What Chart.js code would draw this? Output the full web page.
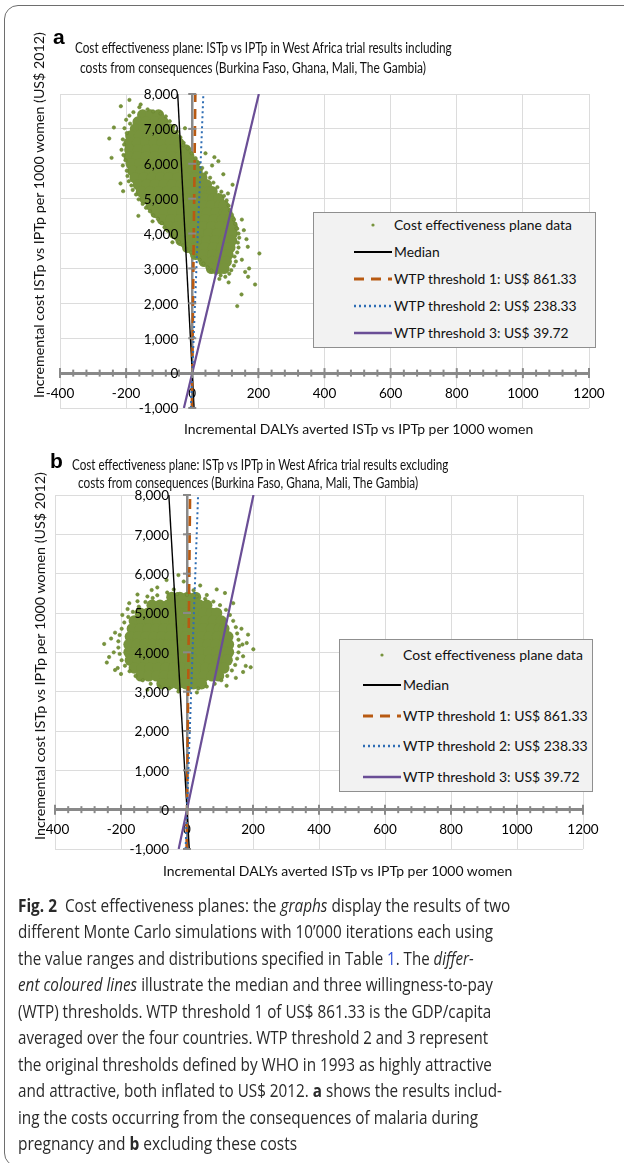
<!DOCTYPE html>
<html>
<head>
<meta charset="utf-8">
<script src="https://cdn.jsdelivr.net/npm/chart.js@4"></script>
<style>
  body { margin: 0; width: 624px; height: 1163px; position: relative; overflow: hidden; background: #fff; font-family: Lato, "Noto Sans", sans-serif; color: #111; }
  .frame { position: absolute; left: 4px; top: 5px; width: 680px; height: 1162px; border: 1.4px solid #6e6e6e; border-radius: 14px; box-sizing: border-box; }
  canvas { position: absolute; left: 0; }
  .t { position: absolute; white-space: nowrap; transform-origin: 0 50%; font-size: 14.5px; line-height: 18px; color: #111; }
  .rot { transform-origin: 0 0; font-size: 14px; line-height: 16px; }
  .lab { position: absolute; font-family: "Liberation Sans", Arial, sans-serif; font-weight: bold; font-size: 21px; line-height: 21px; color: #000; }
  .legend { position: absolute; background: #f2f2f2; border: 1px solid #8f8f8f; box-sizing: border-box; }
  .lt { position: absolute; white-space: nowrap; transform-origin: 0 50%; font-size: 14px; line-height: 18px; color: #111; }
  .cap { position: absolute; left: 18px; white-space: nowrap; transform-origin: 0 50%; font-family: "Open Sans", sans-serif; font-size: 18.5px; line-height: 26px; color: #2a2a2a; }
  .cap .lnk { color: #2f4fd6; }
</style>
</head>
<body>
<div class="frame"></div>
<canvas id="chartA" width="624" height="445" style="top:0"></canvas>
<canvas id="chartB" width="624" height="440" style="top:445px"></canvas>

<div class="lab" style="left:53px;top:26px">a</div>
<div class="t" data-w="377" style="left:75px;top:39px">Cost effectiveness plane: ISTp vs IPTp in West Africa trial results including</div>
<div class="t" data-w="346" style="left:80px;top:59px">costs from consequences (Burkina Faso, Ghana, Mali, The Gambia)</div>
<div class="t rot" data-w="366" style="left:31px;top:398px">Incremental cost ISTp vs IPTp per 1000 women (US$ 2012)</div>
<div class="t" data-w="349" style="left:184px;top:420px;font-size:14px">Incremental DALYs averted ISTp vs IPTp per 1000 women</div>
<div class="legend" id="legA" style="left:313px;top:212px;width:283px;height:136px"></div>

<div class="lab" style="left:50px;top:450px">b</div>
<div class="t" data-w="376" style="left:72px;top:456px">Cost effectiveness plane: ISTp vs IPTp in West Africa trial results excluding</div>
<div class="t" data-w="340" style="left:78px;top:474px">costs from consequences (Burkina Faso, Ghana, Mali, The Gambia)</div>
<div class="t rot" data-w="368" style="left:32px;top:840px">Incremental cost ISTp vs IPTp per 1000 women (US$ 2012)</div>
<div class="t" data-w="349" style="left:163px;top:862px;font-size:14px">Incremental DALYs averted ISTp vs IPTp per 1000 women</div>
<div class="legend" id="legB" style="left:339px;top:639px;width:254px;height:153px"></div>

<div class="cap" data-w="492" style="top:892px"><b>Fig. 2</b>&nbsp; Cost effectiveness planes: the <i>graphs</i> display the results of two</div>
<div class="cap" data-w="475" style="top:918px">different Monte Carlo simulations with 10’000 iterations each using</div>
<div class="cap" data-w="456" style="top:945px">the value ranges and distributions specified in Table <span class="lnk">1</span>. The <i>differ-</i></div>
<div class="cap" data-w="475" style="top:971px"><i>ent coloured lines</i> illustrate the median and three willingness-to-pay</div>
<div class="cap" data-w="473" style="top:998px">(WTP) thresholds. WTP threshold 1 of US$ 861.33 is the GDP/capita</div>
<div class="cap" data-w="470" style="top:1024px">averaged over the four countries. WTP threshold 2 and 3 represent</div>
<div class="cap" data-w="474" style="top:1051px">the original thresholds defined by WHO in 1993 as highly attractive</div>
<div class="cap" data-w="484" style="top:1077px">and attractive, both inflated to US$ 2012. <b>a</b> shows the results includ-</div>
<div class="cap" data-w="460" style="top:1104px">ing the costs occurring from the consequences of malaria during</div>
<div class="cap" data-w="279" style="top:1130px">pregnancy and <b>b</b> excluding these costs</div>

<script>
// axis ranges
const xMin = -400, xMax = 1200, xStep = 200, xMinorStep = 40;
const yMin = -1000, yMax = 8000, yStep = 1000;

const legendLabels = [
  "Cost effectiveness plane data",
  "Median",
  "WTP threshold 1: US$ 861.33",
  "WTP threshold 2: US$ 238.33",
  "WTP threshold 3: US$ 39.72"
];

// straight lines through the origin: cost ends and DALY ends
const lineCost = [-1000, 8000];
const medianDalyA = [5.5, -44];
const medianDalyB = [6.9, -55];
const wtp1Daly = [-1.2, 9.3];
const wtp2Daly = [-4.2, 33.6];
const wtp3Daly = [-25.2, 201.4];

// dense part of the simulation cloud, rows of [cost, [DALYs...]]
const coreRowsA = [
  [7400, [-150, -126, -102]],
  [7200, [-164, -139, -113, -88]],
  [7000, [-172, -147, -121, -96, -70]],
  [6800, [-186, -160, -134, -109, -83, -57]],
  [6600, [-191, -166, -141, -116, -91, -66, -41]],
  [6400, [-189, -163, -137, -112, -86, -61, -35, -20]],
  [6200, [-191, -166, -140, -114, -88, -62, -36, -10]],
  [6000, [-185, -159, -133, -108, -82, -56, -30, -5, 6]],
  [5800, [-180, -154, -128, -102, -77, -51, -25, 1, 15]],
  [5600, [-173, -147, -121, -96, -70, -44, -18, 8, 29]],
  [5400, [-163, -138, -112, -86, -60, -34, -8, 18, 43]],
  [5200, [-154, -128, -102, -76, -51, -25, 1, 27, 52, 60]],
  [5000, [-143, -118, -92, -66, -40, -14, 12, 38, 63, 80]],
  [4800, [-124, -98, -72, -46, -20, 6, 32, 58, 83, 95]],
  [4600, [-110, -84, -58, -32, -6, 20, 46, 72, 97, 105]],
  [4400, [-90, -64, -38, -12, 14, 40, 66, 91, 114]],
  [4200, [-71, -45, -19, 7, 33, 59, 85, 110, 121]],
  [4000, [-54, -28, -2, 24, 50, 76, 101, 121]],
  [3800, [-34, -8, 18, 44, 70, 95, 119]],
  [3600, [-14, 12, 38, 64, 89, 114]],
  [3400, [10, 36, 62, 87, 108]],
  [3200, [36, 61, 86, 103]],
  [3000, [58, 83, 96]]
];

// loose points around the cloud, [DALYs, cost]
const scatterA = [
  [-160, 7620], [-135, 7560], [-118, 7500], [-96, 7440], [-178, 7480], [-190, 7380], [-200, 7260], [-188, 7150],
  [-205, 7020], [-198, 6880], [-210, 6700], [-206, 6550], [-214, 6400], [-208, 6250], [-202, 6100], [-210, 5950],
  [-198, 5800], [-196, 5650], [-192, 5500], [-184, 5380], [-180, 5250], [-170, 5120], [-162, 4980], [-150, 4850],
  [-140, 4740], [-128, 4640], [-118, 4520], [-104, 4420], [-92, 4300], [-84, 4180], [-74, 4080], [-62, 3960],
  [-50, 3860], [-40, 3760], [-28, 3660], [-18, 3560], [-4, 3460], [10, 3360], [22, 3250], [34, 3140],
  [46, 3030], [58, 2940], [72, 2860], [86, 2800], [100, 2760], [112, 2850], [118, 2950], [126, 3080],
  [132, 3200], [128, 3340], [136, 3460], [140, 3600], [138, 3740], [142, 3880], [140, 4000], [136, 4140],
  [130, 4280], [126, 4400], [120, 4540], [114, 4660], [110, 4800], [104, 4950], [96, 5080], [88, 5200],
  [76, 5330], [64, 5460], [54, 5600], [42, 5740], [30, 5880], [20, 6020], [10, 6160], [-2, 6300],
  [-14, 6440], [-26, 6600], [-36, 6760], [-46, 6920], [-56, 7080], [-68, 7220], [-80, 7360],
  [-190, 7830], [-216, 7650], [-156, 7700], [-237, 7040], [-251, 6725], [-244, 6170], [-217, 5436], [-209, 5215],
  [-163, 4507], [67, 6190], [79, 6075], [94, 5700], [122, 5400], [134, 4146], [156, 4097], [164, 3840],
  [168, 3620], [203, 3430], [169, 2760], [190, 2540], [149, 2255], [136, 1920], [172, 3000], [150, 3250],
  [160, 2900], [110, 2600], [82, 2700], [-22, 7020], [-27, 6530], [40, 6300], [60, 5950], [108, 5150],
  [150, 4400], [-120, 4350], [-60, 3750]
];

const coreRowsB = [
  [5400, [-46, -22, 2, 26]],
  [5200, [-106, -82, -58, -34, -10, 14, 38, 60]],
  [5000, [-142, -118, -94, -70, -46, -22, 2, 26, 50, 74, 90]],
  [4800, [-160, -136, -112, -88, -64, -40, -16, 8, 32, 56, 80, 104]],
  [4600, [-166, -142, -118, -94, -70, -46, -22, 2, 26, 50, 74, 98, 112]],
  [4400, [-172, -148, -124, -100, -76, -52, -28, -4, 20, 44, 68, 92, 116, 124]],
  [4200, [-176, -152, -128, -104, -80, -56, -32, -8, 16, 40, 64, 88, 112, 126]],
  [4000, [-176, -150, -126, -102, -78, -54, -30, -6, 18, 42, 66, 90, 114, 126]],
  [3800, [-172, -148, -124, -100, -76, -52, -28, -4, 20, 44, 68, 92, 116, 122]],
  [3600, [-160, -136, -112, -88, -64, -40, -16, 8, 32, 56, 80, 104, 112]],
  [3400, [-140, -116, -92, -68, -44, -20, 4, 28, 52, 76, 96]],
  [3200, [-76, -52, -28, -4, 20, 44]]
];

const scatterB = [
  [-90, 5450], [-60, 5520], [-30, 5480], [0, 5460], [30, 5420], [55, 5360], [80, 5290], [100, 5200],
  [118, 5080], [130, 4950], [140, 4800], [148, 4640], [152, 4480], [156, 4320], [158, 4160], [156, 4000],
  [152, 3840], [146, 3680], [136, 3540], [122, 3400], [104, 3290], [84, 3200], [60, 3130], [34, 3080],
  [6, 3060], [-24, 3050], [-54, 3080], [-84, 3130], [-110, 3200], [-134, 3290], [-156, 3400], [-174, 3520],
  [-188, 3660], [-198, 3800], [-204, 3960], [-208, 4120], [-208, 4280], [-204, 4440], [-198, 4600], [-190, 4760],
  [-178, 4900], [-164, 5030], [-146, 5160], [-126, 5280], [-104, 5380], [-120, 5420], [-150, 5300], [-180, 5100],
  [-196, 4950], [-218, 4500], [-222, 4000], [-210, 3600], [168, 4200], [170, 3900], [165, 4600], [140, 5250],
  [-40, 5600], [20, 5580],
  [-251, 4213], [-243, 3740], [-218, 3550], [-236, 3880], [-26, 5964], [-62, 5838], [-107, 5584], [60, 5457],
  [115, 5508], [201, 4078], [193, 3621], [178, 3655], [181, 4238], [-26, 3003], [-150, 5470], [-175, 5250],
  [90, 5600], [148, 3350], [170, 3500], [-200, 3450], [-230, 4350], [185, 4450], [-10, 5800], [40, 5700],
  [-90, 5650], [120, 3150], [-120, 3050], [30, 2980]
];

const cloudColor = "#77933C";
const axisColor = "#898989";
const gridColor = "#dcdcdc";
const tickFont = "13.5px Lato, 'Noto Sans', sans-serif";

const lineStyles = [
  { color: "#000000", width: 1.4, dash: [] },
  { color: "#B85A12", width: 2.6, dash: [10, 7] },
  { color: "#2E6DB4", width: 2, dash: [2, 3] },
  { color: "#6A4E96", width: 2.2, dash: [] }
];

function rowsToPoints(rows) {
  return rows.flatMap(([y, xs]) => xs.map(x => ({ x, y })));
}
function pairsToPoints(pairs) {
  return pairs.map(([x, y]) => ({ x, y }));
}
function linePoints(xs) {
  return xs.map((x, i) => ({ x, y: lineCost[i] }));
}

// Excel style cross tick marks on both axes, and the cost labels left of the y axis
const crossTicks = {
  id: "crossTicks",
  afterDraw(chart, args, opts) {
    const { ctx, scales: { x, y } } = chart;
    const x0 = x.getPixelForValue(0);
    const y0 = y.getPixelForValue(0);
    ctx.save();
    ctx.strokeStyle = axisColor;
    ctx.lineWidth = 2;
    for (let v = xMin; v <= xMax; v += xMinorStep) {
      const px = x.getPixelForValue(v);
      const h = v % xStep === 0 ? 5 : 3.5;
      ctx.beginPath();
      ctx.moveTo(px, y0 - h);
      ctx.lineTo(px, y0 + h);
      ctx.stroke();
    }
    ctx.font = tickFont;
    ctx.fillStyle = "#000";
    ctx.textAlign = "right";
    ctx.textBaseline = "middle";
    y.ticks.forEach(t => {
      const py = y.getPixelForValue(t.value);
      ctx.beginPath();
      ctx.moveTo(x0 - 4, py);
      ctx.lineTo(x0 + 4, py);
      ctx.stroke();
      ctx.fillText(t.value.toLocaleString("en-US"), x0 - opts.labelGap, py + 1);
    });
    ctx.restore();
  }
};

function makeChart(id, padding, labelGap, coreRows, scatter, medianDaly) {
  const lines = [medianDaly, wtp1Daly, wtp2Daly, wtp3Daly];
  const datasets = [
    {
      label: legendLabels[0],
      data: rowsToPoints(coreRows),
      pointRadius: 5.6,
      pointBackgroundColor: cloudColor,
      pointBorderWidth: 0,
      order: 20
    },
    {
      label: legendLabels[0],
      data: pairsToPoints(scatter),
      pointRadius: 1.7,
      pointBackgroundColor: cloudColor,
      pointBorderColor: "#6a862f",
      pointBorderWidth: 0.6,
      order: 19
    }
  ];
  lines.forEach((xs, i) => {
    const s = lineStyles[i];
    datasets.push({
      label: legendLabels[i + 1],
      data: linePoints(xs),
      showLine: true,
      pointRadius: 0,
      borderColor: s.color,
      borderWidth: s.width,
      borderDash: s.dash,
      order: 4 - i
    });
  });

  return new Chart(document.getElementById(id), {
    type: "scatter",
    data: { datasets },
    options: {
      responsive: false,
      animation: false,
      devicePixelRatio: 1,
      layout: { padding },
      plugins: {
        legend: { display: false },
        tooltip: { enabled: false },
        crossTicks: { labelGap }
      },
      scales: {
        xg: {
          type: "linear", position: { y: 0 }, min: xMin, max: xMax,
          ticks: { stepSize: xStep, display: false },
          grid: { color: gridColor, drawTicks: false },
          border: { display: false }
        },
        yg: {
          type: "linear", position: { x: 0 }, min: yMin, max: yMax,
          ticks: { stepSize: yStep, display: false },
          grid: { color: gridColor, drawTicks: false },
          border: { display: false }
        },
        x: {
          type: "linear", position: { y: 0 }, min: xMin, max: xMax, z: 1,
          ticks: { stepSize: xStep, color: "#000", padding: 12, font: { size: 13.5 }, callback: v => String(v) },
          grid: { drawOnChartArea: false, drawTicks: false },
          border: { color: axisColor, width: 3 }
        },
        y: {
          type: "linear", position: { x: 0 }, min: yMin, max: yMax, z: 1,
          ticks: { stepSize: yStep, display: false },
          grid: { drawOnChartArea: false, drawTicks: false },
          border: { color: axisColor, width: 2.5 }
        }
      }
    },
    plugins: [crossTicks]
  });
}

Chart.defaults.font.family = "Lato, 'Noto Sans', sans-serif";

makeChart("chartA", { left: 60, right: 35, top: 94, bottom: 37 }, 14, coreRowsA, scatterA, medianDalyA);
makeChart("chartB", { left: 55, right: 41, top: 50, bottom: 36 }, 18, coreRowsB, scatterB, medianDalyB);

// html legends
function sample(i) {
  if (i === 0) {
    return `<svg width="40" height="8"><circle cx="19" cy="4" r="1.6" fill="${cloudColor}"/></svg>`;
  }
  const s = lineStyles[i - 1];
  return `<svg width="40" height="8"><line x1="0" y1="4" x2="38" y2="4" stroke="${s.color}" stroke-width="${s.width + 0.4}" stroke-dasharray="${s.dash.join(",")}"/></svg>`;
}
function buildLegend(id, rowTops, sampleLeft, textLeft, textW) {
  const box = document.getElementById(id);
  box.innerHTML = legendLabels.map((lbl, i) => `
    <div style="position:absolute;left:${sampleLeft}px;top:${rowTops[i] + 5}px;line-height:0">${sample(i)}</div>
    <div class="lt" style="left:${textLeft}px;top:${rowTops[i]}px">${lbl}</div>
  `).join("");
  // one squeeze factor for the whole legend, from its first (widest) label
  const rows = box.querySelectorAll(".lt");
  const k = textW / rows[0].offsetWidth;
  rows.forEach(el => { el.style.transform = `scaleX(${k})`; });
}
buildLegend("legA", [3, 30, 57, 84, 111], 40, 80, 178);
buildLegend("legB", [6, 36, 67, 97, 128], 23, 63, 180);

// squeeze text lines to the widths measured on the reference
document.querySelectorAll("[data-w]").forEach(el => {
  const k = el.dataset.w / el.offsetWidth;
  if (el.classList.contains("rot")) {
    el.style.transform = `rotate(-90deg) scaleX(${k})`;
  } else {
    el.style.transform = `scaleX(${k})`;
  }
});
</script>
</body>
</html>
